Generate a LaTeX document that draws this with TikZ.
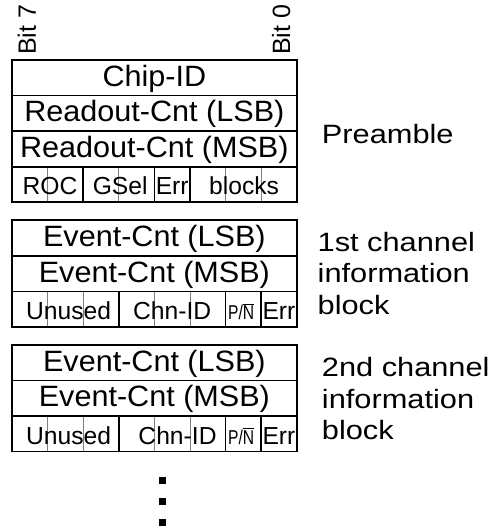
\documentclass[tikz,border=0pt]{standalone}
\usepackage{fontspec}
\setmainfont{Liberation Sans}
\newfontfamily\rowfont{Liberation Sans}[FakeStretch=1.04]
\newfontfamily\sidefont{Liberation Sans}[FakeStretch=1.16]
\newfontfamily\narrowfont{Liberation Sans}[FakeStretch=0.78]
\usetikzlibrary{positioning}

\tikzset{
  frame/.style={line width=1.4pt},
  bitline/.style={gray, line width=0.7pt},
  fieldline/.style={line width=1.2pt},
  rowtext/.style={font=\rowfont\fontsize{23.5}{24}\selectfont, anchor=base, inner sep=0pt},
  fieldtext/.style={font=\fontsize{19.7}{20}\selectfont, anchor=base, inner sep=0pt},
  smalltext/.style={font=\narrowfont\fontsize{16}{16}\selectfont, anchor=base, inner sep=0pt},
  sidetext/.style={font=\sidefont\fontsize{21.2}{25.2}\selectfont, align=left, anchor=base west, inner sep=0pt},
  bittext/.style={font=\fontsize{20}{20}\selectfont, rotate=90, anchor=base west, inner sep=0pt},
}

\begin{document}
\begin{tikzpicture}
\useasboundingbox (-0.337,1.685) rectangle (13.71,-13.26);
% bit numbers
\node[bittext] (bit7) at (0.67,0.14) {Bit 7};
\node[bittext] (bit0) at (7.81,0.14) {Bit 0};

% preamble
\foreach \y/\txt in {0/{Chip-ID}, 1/{Readout-Cnt (LSB)}, 2/{Readout-Cnt (MSB)}}
    \node[rowtext] (pre\y) at (4,-\y-0.74) {\txt};
\foreach \x in {1,...,7}
    \draw[bitline] (\x,-3) -- (\x,-4);
\foreach \x in {2,4,5}
    \draw[fieldline] (\x,-3) -- (\x,-4);
\foreach \y in {1,2,3}
    \draw[fieldline] (0,-\y) -- (8,-\y);
\draw[frame] (0,0) rectangle (8,-4);
\foreach \x/\txt in {1.07/ROC, 3.04/GSel, 4.5/Err, 6.52/blocks}
    \node[fieldtext] (pre\txt) at (\x,-3.79) {\txt};

% channel information blocks
\foreach \ty/\n/\cx in {4.5/1/4.5, 8/2/4.65} {
    \node[rowtext] (lsb\n) at (4,-\ty-0.74) {Event-Cnt (LSB)};
    \node[rowtext] (msb\n) at (4,-\ty-1.74) {Event-Cnt (MSB)};
    \foreach \x in {1,...,7}
        \draw[bitline] (\x,-\ty-2) -- (\x,-\ty-3);
    \foreach \x in {3,6,7}
        \draw[fieldline] (\x,-\ty-2) -- (\x,-\ty-3);
    \foreach \y in {1,2}
        \draw[fieldline] (0,-\ty-\y) -- (8,-\ty-\y);
    \draw[frame] (0,-\ty) rectangle (8,-\ty-3);
    \node[fieldtext] (unused\n) at (1.59,-\ty-2.79) {Unused};
    \node[fieldtext] (chn\n) at (\cx,-\ty-2.79) {Chn-ID};
    \node[smalltext] (pn\n) at (6.44,-\ty-2.79) {P/$\overline{\mbox{N}}$};
    \node[fieldtext] (err\n) at (7.5,-\ty-2.79) {Err};
}

% labels on the right
\node[sidetext] (pream) at (8.70,-2.36) {Preamble};
\node[sidetext] (chan1) at (8.58,-7.14) {1st channel\\information\\block};
\node[sidetext] (chan2) at (8.70,-10.67) {2nd channel\\information\\block};

% more blocks follow
\foreach \y in {11.82,12.41,13.0}
    \fill (4.14,-\y+0.1) rectangle ++(0.2,-0.2);
\end{tikzpicture}
\end{document}
